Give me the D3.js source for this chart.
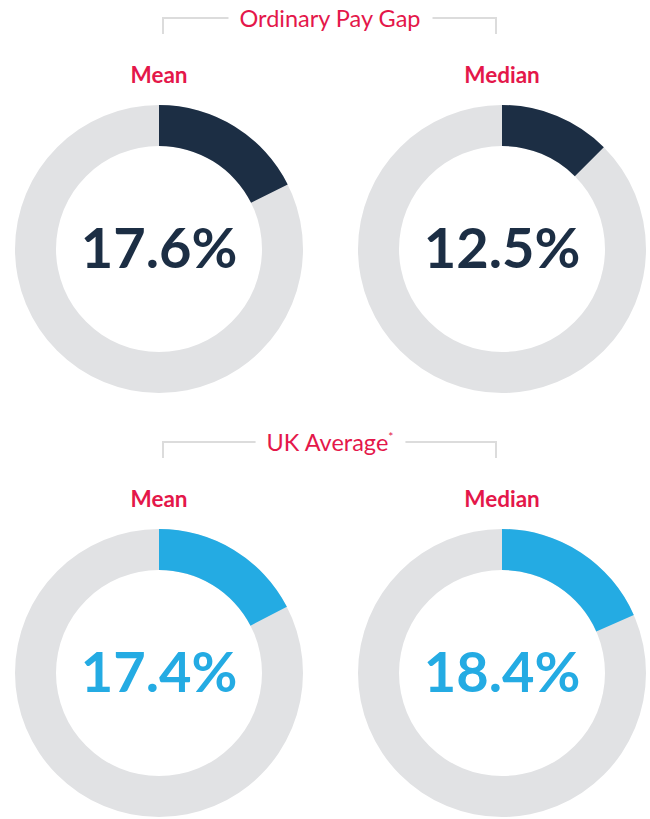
<!DOCTYPE html>
<html>
<head>
<meta charset="utf-8">
<script src="https://cdn.jsdelivr.net/npm/d3@7"></script>
<style>
	body { margin: 0; background: #fff; }
	text { font-family: Lato, "Open Sans", sans-serif; }
</style>
</head>
<body>
<script>
	// Gap values (percent)
	const groups = ["Ordinary Pay Gap", "UK Average"]
	const measures = ["Mean", "Median"]
	const ordinaryValues = [17.6, 12.5]
	const ukValues = [17.4, 18.4]

	const width = 650, height = 819
	const colours = {
		accent: "#e4174a",
		track: "#e1e2e4",
		bracket: "#dcdcdc",
		series: ["#1c2e44", "#24abe3"],
	}

	const svg = d3.select("body").append("svg")
		.attr("width", width)
		.attr("height", height)

	const x = d3.scalePoint().domain(measures).range([159, 502])
	const y = d3.scalePoint().domain(groups).range([249, 673])
	const pct = d3.scaleLinear().domain([0, 100]).range([0, 2 * Math.PI])

	const arc = d3.arc().innerRadius(103).outerRadius(144)

	const rows = [ordinaryValues, ukValues]

	groups.forEach((group, gi) => {
		const cy = y(group)
		const row = svg.append("g").attr("class", "group")

		// Heading with bracket
		const headY = cy - 231
		const title = row.append("text")
			.attr("x", 330)
			.attr("y", headY + 9)
			.attr("text-anchor", "middle")
			.attr("font-size", 23.5)
			.attr("fill", colours.accent)
			.text(group)
		if (gi === 1) {
			title.append("tspan")
				.attr("font-size", 12)
				.attr("dy", -10)
				.text("*")
		}
		const bb = title.node().getBBox()
		const x0 = x(measures[0]) + 4, x1 = x(measures[1]) - 6
		row.append("path")
			.attr("d", `M${x0},${headY + 16}V${headY}H${bb.x - 11}M${bb.x + bb.width + 12},${headY}H${x1}V${headY + 16}`)
			.attr("fill", "none")
			.attr("stroke", colours.bracket)
			.attr("stroke-width", 2)

		measures.forEach((m, mi) => {
			const value = rows[gi][mi]
			const g = row.append("g")
				.attr("transform", `translate(${x(m)},${cy})`)

			g.append("text")
				.attr("y", -166)
				.attr("text-anchor", "middle")
				.attr("font-size", 22.5)
				.attr("font-weight", 700)
				.attr("fill", colours.accent)
				.text(m)

			g.append("path")
				.attr("d", arc({ startAngle: 0, endAngle: 2 * Math.PI }))
				.attr("fill", colours.track)
			g.append("path")
				.attr("d", arc({ startAngle: 0, endAngle: pct(value) }))
				.attr("fill", colours.series[gi])

			g.append("text")
				.attr("y", 19)
				.attr("text-anchor", "middle")
				.attr("font-size", 56)
				.attr("font-weight", 700)
				.attr("fill", colours.series[gi])
				.text(value.toFixed(1) + "%")
		})
	})
</script>
</body>
</html>
